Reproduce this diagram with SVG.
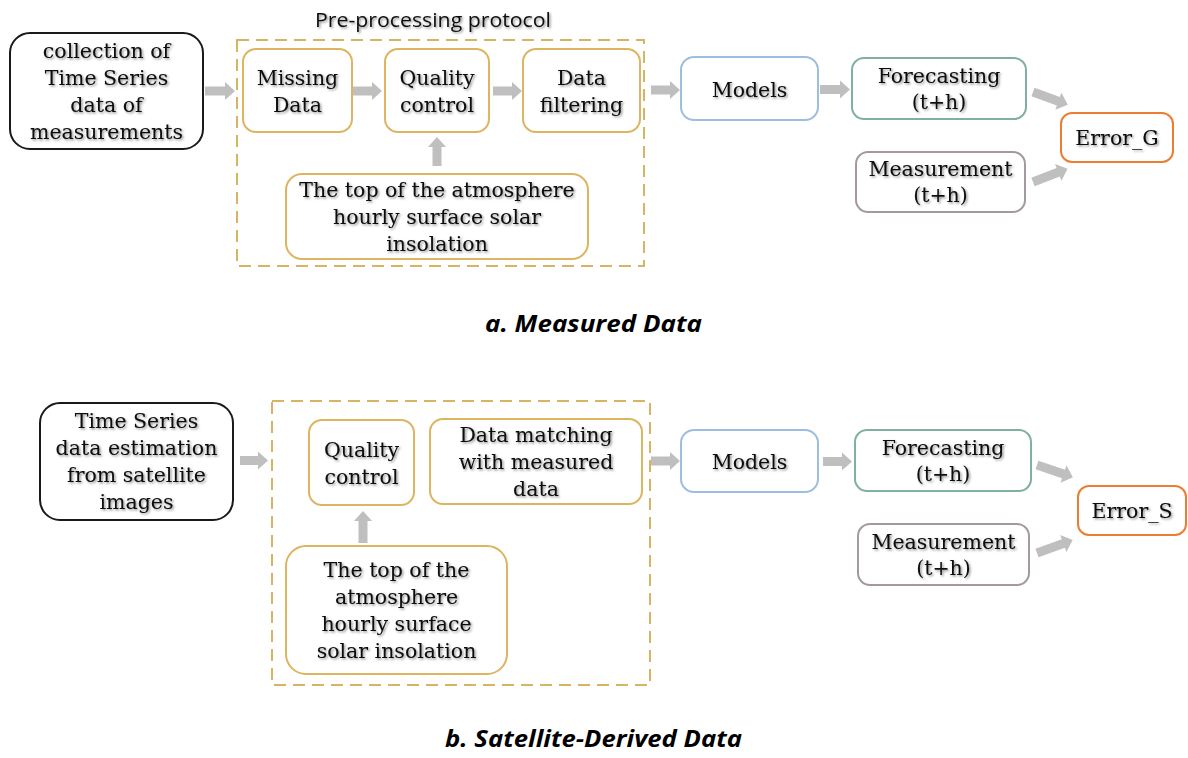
<svg xmlns="http://www.w3.org/2000/svg" width="1188" height="758" viewBox="0 0 1188 758">
  <defs>
    <filter id="sh" x="-10%" y="-20%" width="120%" height="150%">
      <feDropShadow dx="1.4" dy="1.4" stdDeviation="0.8" flood-color="#000" flood-opacity="0.45"/>
    </filter>
  </defs>
  <style>
    .box { fill: #fff; stroke-width: 2; }
    .blk { stroke: #1a1a1a; }
    .gld { stroke: #DDB560; }
    .blu { stroke: #9DBEDF; }
    .grn { stroke: #7FB0A2; }
    .gry { stroke: #A39A9A; }
    .org { stroke: #ED7D31; }
    .dash { fill: none; stroke: #D9B364; stroke-width: 2; stroke-dasharray: 12 7; }
    .t { font-family: "DejaVu Serif", "Liberation Serif", serif; font-size: 20.5px; fill: #0a0a0a; text-anchor: middle; filter: url(#sh); }
    .cap { font-family: "Open Sans", "Liberation Sans", sans-serif; font-weight: bold; font-style: italic; font-size: 23px; fill: #000; text-anchor: middle; }
    .ttl { font-family: "Open Sans", "Liberation Sans", sans-serif; font-size: 20.5px; fill: #111; text-anchor: middle; filter: url(#sh); }
    .arr { fill: #BFBFBF; }
  </style>

  <!-- ===== a. Measured Data ===== -->
  <g id="preproc-a">
    <rect class="dash" x="237" y="40" width="407" height="226"/>
    <text class="ttl" x="433" y="27" textLength="236" lengthAdjust="spacingAndGlyphs">Pre-processing protocol</text>
  </g>

  <g id="a-collection">
    <rect class="box blk" x="10" y="33" width="193" height="116" rx="20"/>
    <text class="t" x="106.5" y="58">collection of</text>
    <text class="t" x="106.5" y="85">Time Series</text>
    <text class="t" x="106.5" y="112">data of</text>
    <text class="t" x="106.5" y="139">measurements</text>
  </g>
  <g id="a-missing">
    <rect class="box gld" x="243" y="49" width="109" height="83" rx="13"/>
    <text class="t" x="297.5" y="85">Missing</text>
    <text class="t" x="297.5" y="112">Data</text>
  </g>
  <g id="a-quality">
    <rect class="box gld" x="385" y="49" width="104" height="83" rx="13"/>
    <text class="t" x="437" y="85">Quality</text>
    <text class="t" x="437" y="112">control</text>
  </g>
  <g id="a-filtering">
    <rect class="box gld" x="523" y="49" width="117" height="83" rx="13"/>
    <text class="t" x="581.5" y="85">Data</text>
    <text class="t" x="581.5" y="112">filtering</text>
  </g>
  <g id="a-toa">
    <rect class="box gld" x="286" y="174" width="302" height="85" rx="16"/>
    <text class="t" x="437" y="197">The top of the atmosphere</text>
    <text class="t" x="437" y="224">hourly surface solar</text>
    <text class="t" x="437" y="251">insolation</text>
  </g>
  <g id="a-models">
    <rect class="box blu" x="681" y="57" width="137" height="63" rx="13"/>
    <text class="t" x="749.5" y="97">Models</text>
  </g>
  <g id="a-forecasting">
    <rect class="box grn" x="852" y="58" width="174" height="61" rx="12"/>
    <text class="t" x="939" y="83">Forecasting</text>
    <text class="t" x="939" y="109">(t+h)</text>
  </g>
  <g id="a-measurement">
    <rect class="box gry" x="856" y="152" width="169" height="60" rx="12"/>
    <text class="t" x="940.5" y="176">Measurement</text>
    <text class="t" x="940.5" y="202">(t+h)</text>
  </g>
  <g id="a-error">
    <rect class="box org" x="1061" y="113" width="112" height="49" rx="11"/>
    <text class="t" x="1117" y="145">Error_G</text>
  </g>

  <!-- ===== b. Satellite-Derived Data ===== -->
  <g id="preproc-b">
    <rect class="dash" x="272" y="401" width="378" height="284"/>
  </g>
  <g id="b-timeseries">
    <rect class="box blk" x="40" y="403" width="193" height="117" rx="20"/>
    <text class="t" x="136.5" y="428">Time Series</text>
    <text class="t" x="136.5" y="455">data estimation</text>
    <text class="t" x="136.5" y="482">from satellite</text>
    <text class="t" x="136.5" y="509">images</text>
  </g>
  <g id="b-quality">
    <rect class="box gld" x="309" y="420" width="105" height="85" rx="13"/>
    <text class="t" x="361.5" y="457">Quality</text>
    <text class="t" x="361.5" y="484">control</text>
  </g>
  <g id="b-matching">
    <rect class="box gld" x="430" y="419" width="212" height="85" rx="13"/>
    <text class="t" x="536" y="442">Data matching</text>
    <text class="t" x="536" y="469">with measured</text>
    <text class="t" x="536" y="496">data</text>
  </g>
  <g id="b-toa">
    <rect class="box gld" x="286" y="546" width="221" height="128" rx="20"/>
    <text class="t" x="396.5" y="577">The top of the</text>
    <text class="t" x="396.5" y="604">atmosphere</text>
    <text class="t" x="396.5" y="631">hourly surface</text>
    <text class="t" x="396.5" y="658">solar insolation</text>
  </g>
  <g id="b-models">
    <rect class="box blu" x="681" y="430" width="137" height="62" rx="13"/>
    <text class="t" x="749.5" y="469">Models</text>
  </g>
  <g id="b-forecasting">
    <rect class="box grn" x="855" y="430" width="176" height="61" rx="12"/>
    <text class="t" x="943" y="455">Forecasting</text>
    <text class="t" x="943" y="481">(t+h)</text>
  </g>
  <g id="b-measurement">
    <rect class="box gry" x="858" y="524" width="171" height="61" rx="12"/>
    <text class="t" x="943.5" y="549">Measurement</text>
    <text class="t" x="943.5" y="575">(t+h)</text>
  </g>
  <g id="b-error">
    <rect class="box org" x="1078" y="486" width="108" height="49" rx="11"/>
    <text class="t" x="1132" y="518">Error_S</text>
  </g>

  <!-- ===== connectors ===== -->
  <g id="connectors" class="arr">
    <!-- top -->
    <polygon points="205,86.5 225,86.5 225,82 235,91 225,100 225,95.5 205,95.5"/>
    <polygon points="353,86.5 372,86.5 372,82 382,91 372,100 372,95.5 353,95.5"/>
    <polygon points="493,86.5 512,86.5 512,82 522,91 512,100 512,95.5 493,95.5"/>
    <polygon points="651,85.5 670,85.5 670,81 680,90 670,99 670,94.5 651,94.5"/>
    <polygon points="820,85 840,85 840,80.5 850,89.5 840,98.5 840,94 820,94"/>
    <polygon points="432.5,166 432.5,147 428,147 437,137 446,147 441.5,147 441.5,166"/>
    <g transform="translate(1033,92) rotate(20)"><polygon points="0,-4.5 27,-4.5 27,-9 37,0 27,9 27,4.5 0,4.5"/></g>
    <g transform="translate(1033,182) rotate(-21)"><polygon points="0,-4.5 27,-4.5 27,-9 37,0 27,9 27,4.5 0,4.5"/></g>
    <!-- bottom -->
    <polygon points="240,456 258,456 258,451.5 268,460.5 258,469.5 258,465 240,465"/>
    <polygon points="651,456.5 670,456.5 670,452 680,461 670,470 670,465.5 651,465.5"/>
    <polygon points="823,457 842,457 842,452.5 852,461.5 842,470.5 842,466 823,466"/>
    <polygon points="358.5,543 358.5,521 354,521 363,511 372,521 367.5,521 367.5,543"/>
    <g transform="translate(1037,465) rotate(19)"><polygon points="0,-4.5 28,-4.5 28,-9 38,0 28,9 28,4.5 0,4.5"/></g>
    <g transform="translate(1037,553) rotate(-20)"><polygon points="0,-4.5 28,-4.5 28,-9 38,0 28,9 28,4.5 0,4.5"/></g>
  </g>

  <!-- captions -->
  <text class="cap" x="593.5" y="332" textLength="217" lengthAdjust="spacingAndGlyphs">a. Measured Data</text>
  <text class="cap" x="593.5" y="747" textLength="297" lengthAdjust="spacingAndGlyphs">b. Satellite-Derived Data</text>
</svg>
